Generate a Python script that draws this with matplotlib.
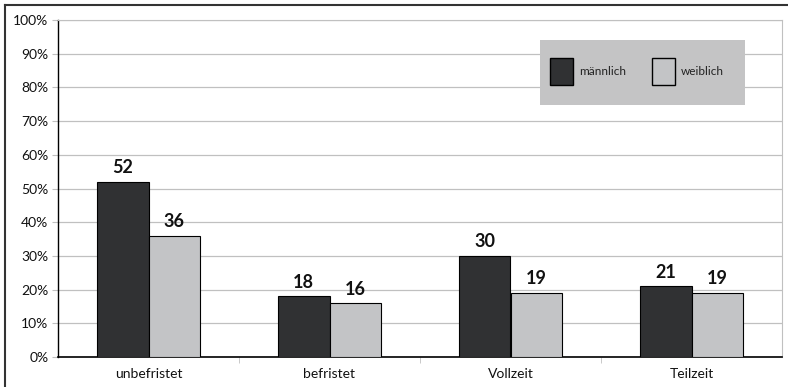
import numpy as np
import matplotlib
matplotlib.use("Agg")
import matplotlib.pyplot as plt
from matplotlib.lines import Line2D
from matplotlib.patches import Rectangle, Patch

plt.rcParams['font.family'] = ['Lato', 'DejaVu Sans']

# Anteile in Prozent
kategorien = ["unbefristet", "befristet", "Vollzeit", "Teilzeit"]
maennlich = [52, 18, 30, 21]
weiblich = [36, 16, 19, 19]
serien = ["männlich", "weiblich"]
y_ticks = [0, 10, 20, 30, 40, 50, 60, 70, 80, 90, 100]

FARBE_M = '#303133'
FARBE_W = '#c3c4c6'
GRID = '#c0c0c0'

fig = plt.figure(figsize=(7.88, 3.87), dpi=100)
ax = fig.add_axes([58 / 788, 1 - 357 / 387, 724 / 788, 337 / 387])

x = np.arange(len(kategorien))
breite = 0.285

b1 = ax.bar(x - breite / 2, maennlich, breite, color=FARBE_M,
            edgecolor='black', linewidth=0.8, zorder=3)
b2 = ax.bar(x + breite / 2, weiblich, breite, color=FARBE_W,
            edgecolor='black', linewidth=0.8, zorder=3)

for balken, werte in [(b1, maennlich), (b2, weiblich)]:
    for rect, v in zip(balken, werte):
        ax.annotate(f"{v}", (rect.get_x() + rect.get_width() / 2, v),
                    xytext=(0, 4), textcoords='offset points',
                    ha='center', va='bottom', fontsize=13,
                    fontweight='bold', color='#111111', zorder=4)

ax.set_xlim(-0.5, len(kategorien) - 0.5)
ax.set_ylim(0, 100)
ax.set_yticks(y_ticks)
ax.set_yticklabels([f"{t}%" for t in y_ticks])
ax.set_xticks(x)
ax.set_xticklabels(kategorien)
ax.set_xticks(np.arange(0.5, len(kategorien) - 1, 1), minor=True)

ax.tick_params(axis='x', which='major', length=0, pad=8, labelsize=10,
               labelcolor='#111111')
ax.tick_params(axis='x', which='minor', length=4, color=GRID, direction='out')
ax.tick_params(axis='y', length=4, color=GRID, labelsize=10,
               labelcolor='#111111', pad=3)

ax.yaxis.grid(True, color=GRID, linewidth=0.9, zorder=0)
ax.set_axisbelow(True)
ax.spines['left'].set_color('black')
ax.spines['left'].set_linewidth(1.0)
ax.spines['bottom'].set_color('black')
ax.spines['bottom'].set_linewidth(1.2)
ax.spines['top'].set_color(GRID)
ax.spines['right'].set_color(GRID)

# grauer Legendenkasten
ax.add_patch(Rectangle(((540 - 58) / 724, (357 - 105) / 337),
                       205 / 724, 65 / 337, transform=ax.transAxes,
                       facecolor='#c4c4c5', edgecolor='none', zorder=5))
handles = [Patch(facecolor=FARBE_M, edgecolor='black', linewidth=1.0),
           Patch(facecolor=FARBE_W, edgecolor='black', linewidth=1.0)]
leg = ax.legend(handles, serien, loc='center left',
                bbox_to_anchor=((550 - 58) / 724, (357 - 71.5) / 337),
                ncol=2, frameon=False, fontsize=8.5, borderpad=0,
                borderaxespad=0, handlelength=1.95, handleheight=3.2,
                handletextpad=0.5, columnspacing=2.2)
leg.set_zorder(6)
for t in leg.get_texts():
    t.set_color('#222222')

# Rahmen um die Grafik
fig.add_artist(Line2D([5 / 788, 5 / 788], [0, 1 - 5 / 387],
                      transform=fig.transFigure, color='#333333', linewidth=1.5))
fig.add_artist(Line2D([5 / 788, 1], [1 - 5 / 387, 1 - 5 / 387],
                      transform=fig.transFigure, color='#333333', linewidth=1.5))

fig.savefig("out.png", dpi=100)
